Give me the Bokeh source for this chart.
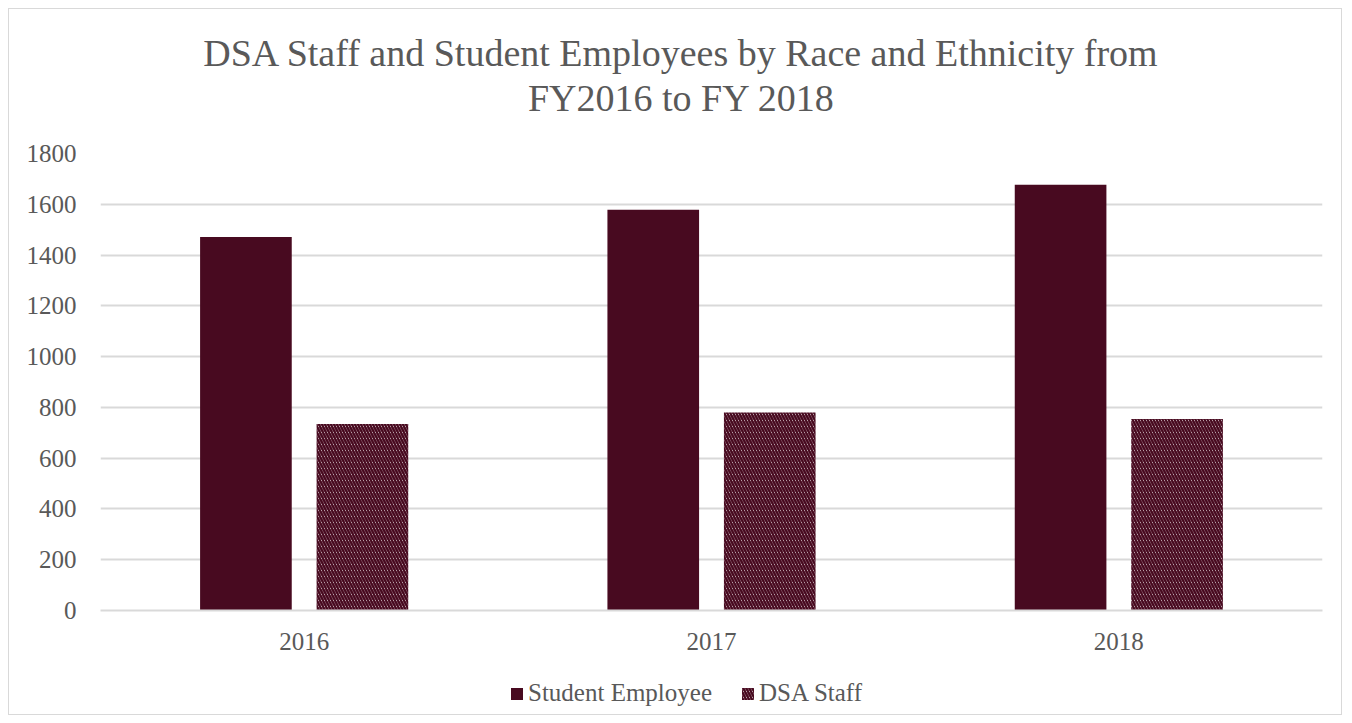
from bokeh.plotting import figure
from bokeh.layouts import column
from bokeh.models import ColumnDataSource, FactorRange, Range1d, Label, Legend, LegendItem
from bokeh.transform import dodge
from bokeh.embed import file_html
from bokeh.resources import INLINE

years = ["2016", "2017", "2018"]
student_employee = [1471, 1578, 1677]
dsa_staff = [735, 780, 754]
y_ticks = [0, 200, 400, 600, 800, 1000, 1200, 1400, 1600, 1800]
series_names = ["Student Employee", "DSA Staff"]

title_line1 = "DSA Staff and Student Employees by Race and Ethnicity from"
title_line2 = "FY2016 to FY 2018"

FONT = "Liberation Serif"
TXT = "#595959"
BAR = "#480a20"
GRID = "#d9d9d9"
HATCH = dict(fill_color="white", line_color=None, hatch_pattern="\\", hatch_color=BAR,
             hatch_scale=6, hatch_weight=2.5)
W = 1332

# ---- title strip ----
tf = figure(width=W, height=124, output_backend="svg", toolbar_location=None,
            x_range=Range1d(0, 1), y_range=Range1d(0, 1), min_border=0,
            x_axis_location=None, y_axis_location=None)
tf.grid.visible = False
tf.outline_line_color = None
for txt, yy in [(title_line1, 81), (title_line2, 36)]:
    tf.add_layout(Label(x=581, y=yy, x_units="screen", y_units="screen", text=txt,
                        text_align="center", text_baseline="alphabetic",
                        text_font=FONT, text_font_size="38px", text_color=TXT))

# ---- main chart ----
src = ColumnDataSource(dict(year=years, student=student_employee, staff=dsa_staff))

p = figure(x_range=FactorRange(*years, range_padding=0), y_range=(0, 1800),
           width=W, height=535, output_backend="svg", toolbar_location=None,
           min_border_left=91, min_border_right=19, min_border_top=20, min_border_bottom=58)
p.outline_line_color = None

p.vbar(x=dodge("year", -0.143, range=p.x_range), top="student", width=0.225, source=src,
       fill_color=BAR, line_color=None)
p.vbar(x=dodge("year", 0.143, range=p.x_range), top="staff", width=0.225, source=src, **HATCH)

p.yaxis.ticker = y_ticks
p.yaxis.axis_line_color = None
p.yaxis.major_tick_line_color = None
p.yaxis.minor_tick_line_color = None
p.yaxis.major_label_standoff = 18
p.yaxis.major_label_text_font = FONT
p.yaxis.major_label_text_font_size = "25px"
p.yaxis.major_label_text_color = TXT

p.xaxis.axis_line_color = GRID
p.xaxis.axis_line_width = 2
p.xaxis.major_tick_line_color = None
p.xaxis.minor_tick_line_color = None
p.xaxis.major_label_standoff = 16
p.xaxis.major_label_text_font = FONT
p.xaxis.major_label_text_font_size = "25px"
p.xaxis.major_label_text_color = TXT

p.xgrid.grid_line_color = None
p.ygrid.grid_line_color = GRID
p.ygrid.grid_line_width = 2

# ---- legend strip ----
lf = figure(width=W, height=46, output_backend="svg", toolbar_location=None,
            x_range=Range1d(0, 1), y_range=Range1d(0, 1), min_border=0,
            x_axis_location=None, y_axis_location=None)
lf.grid.visible = False
lf.outline_line_color = None
hidden = ColumnDataSource(dict(x=[-10], top=[-10]))
g1 = lf.vbar(x="x", top="top", width=0.1, source=hidden, fill_color=BAR, line_color=None)
g2 = lf.vbar(x="x", top="top", width=0.1, source=hidden, **HATCH)
legend = Legend(items=[LegendItem(label=series_names[0], renderers=[g1]),
                       LegendItem(label=series_names[1], renderers=[g2])],
                orientation="horizontal", location=(409, 7),
                label_text_font=FONT, label_text_font_size="25px", label_text_color=TXT,
                glyph_width=15, glyph_height=15, spacing=28, label_standoff=4,
                border_line_color=None, background_fill_alpha=0, margin=0, padding=4)
lf.add_layout(legend, "center")

layout = column(tf, p, lf, spacing=0,
                styles={"border": "1px solid #d9d9d9", "margin": "8px 0 0 8px"})

open("out.html", "w").write(file_html(layout, INLINE))
